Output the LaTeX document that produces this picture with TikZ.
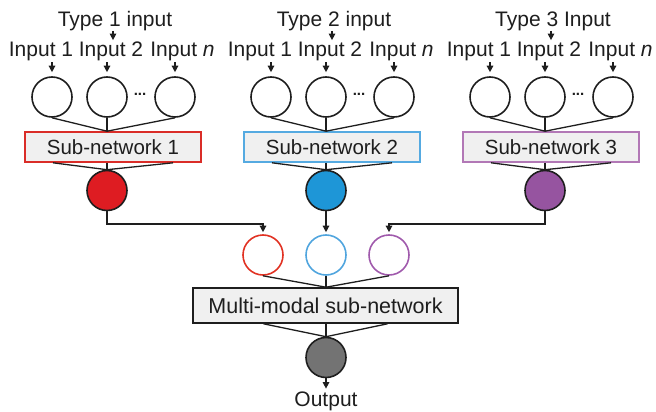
\documentclass[tikz,border=0pt]{standalone}
\usepackage{fontspec}
\setmainfont{Liberation Sans}
\usetikzlibrary{arrows.meta}

\definecolor{boxgray}{RGB}{240,240,240}
\definecolor{edge1}{RGB}{218,45,40}
\definecolor{edge2}{RGB}{85,170,225}
\definecolor{edge3}{RGB}{178,120,182}
\definecolor{core1}{RGB}{222,28,34}
\definecolor{core2}{RGB}{30,150,215}
\definecolor{core3}{RGB}{150,84,160}
\definecolor{coreg}{RGB}{115,115,115}
\definecolor{ring1}{RGB}{225,50,35}
\definecolor{ring2}{RGB}{80,165,222}
\definecolor{ring3}{RGB}{160,90,172}
\definecolor{ink}{RGB}{30,30,30}

\begin{document}
\begin{tikzpicture}[x=1pt,y=-1pt,
  lbl/.style={font=\fontsize{21}{24}\selectfont, inner sep=0pt, anchor=base, text=ink},
  neuron/.style={circle, draw=ink, line width=1.6pt, minimum size=40pt, inner sep=0pt},
  subnet/.style={draw, fill=boxgray, line width=1.6pt, minimum width=176pt,
    minimum height=30pt, inner sep=0pt, font=\fontsize{20.5}{24}\selectfont, text=ink},
  mbox/.style={draw=ink, fill=boxgray, line width=1.6pt, minimum width=265pt,
    minimum height=35pt, inner sep=0pt, font=\fontsize{21.5}{24}\selectfont, text=ink},
  dots/.style={font=\bfseries\fontsize{15}{16}\selectfont, inner sep=0pt, text=ink},
  link/.style={line width=1.3pt, draw=ink},
  arr/.style={line width=1.3pt, draw=ink, -{Triangle[length=6.5pt,width=6.5pt]}}]

\useasboundingbox (0,0) rectangle (656,412);

% three input branches, one per data type
\foreach \g/\k/\lab in {107/1/{Type 1 input},326/2/{Type 2 input},545/3/{Type 3 Input}}{
  \node[lbl] (t\k) at (\g+8,27) {\lab};
  \node[lbl] (ia\k) at (\g-66,57) {Input 1};
  \node[lbl] (ib\k) at (\g+4,57) {Input 2};
  \node[lbl] (ic\k) at (\g+75.5,57) {Input \textit{n}};
  \node[neuron] (ca\k) at (\g-55,97) {};
  \node[neuron] (cb\k) at (\g,97) {};
  \node[neuron] (cc\k) at (\g+68,97) {};
  \node[dots] (d\k) at (\g+33,94) {...};
  \node[subnet, draw=edge\k] (s\k) at (\g+6,147) {Sub-network \k};
  \node[neuron, fill=core\k] (o\k) at (\g,190.5) {};
  % type label feeds the input row
  \draw[arr] ([xshift=-2pt,yshift=-4pt]t\k.base) -- ([xshift=2pt,yshift=2pt]ib\k.north);
  % each input feeds its neuron
  \foreach \c in {ca,cb,cc}{
    \draw[arr] ([yshift=14pt]\c\k.north) -- ([yshift=4pt]\c\k.north);
  }
  % neurons into the sub-network
  \draw[link] (ca\k.south) -- (s\k.north -| cb\k);
  \draw[link] (cb\k.south) -- (s\k.north -| cb\k);
  \draw[link] (cc\k.south) -- (s\k.north -| cb\k);
  % sub-network into its output neuron
  \draw[link] ([xshift=-60pt]s\k.south) -- (o\k.north);
  \draw[link] ([xshift=60pt]s\k.south) -- (o\k.north);
  \draw[link] (s\k.south -| o\k) -- (o\k.north);
}

% fusion stage
\coordinate (bend) at (0,224);
\node[neuron, draw=ring1] (m1) at (263,255) {};
\node[neuron, draw=ring2] (m2) at (326,255) {};
\node[neuron, draw=ring3] (m3) at (389,255) {};
\node[mbox] (mm) at (325.5,305.5) {Multi-modal sub-network};
\node[neuron, fill=coreg] (out) at (326,357.5) {};
\node[lbl] (outl) at (326,406.5) {Output};

\draw[arr] (o1.south) -- (o1.south |- bend) -| ([yshift=2pt]m1.north);
\draw[arr] (o2.south) -- ([yshift=2pt]m2.north);
\draw[arr] (o3.south) -- (o3.south |- bend) -| ([yshift=2pt]m3.north);

\draw[link] (m1.south) -- (mm.north -| m2);
\draw[link] (m2.south) -- (mm.north -| m2);
\draw[link] (m3.south) -- (mm.north -| m2);

\draw[link] ([xshift=-62pt]mm.south) -- (out.north);
\draw[link] ([xshift=62pt]mm.south) -- (out.north);
\draw[link] (mm.south -| out) -- (out.north);

\draw[arr] (out.south) -- ([yshift=3pt]outl.north);
\end{tikzpicture}
\end{document}
